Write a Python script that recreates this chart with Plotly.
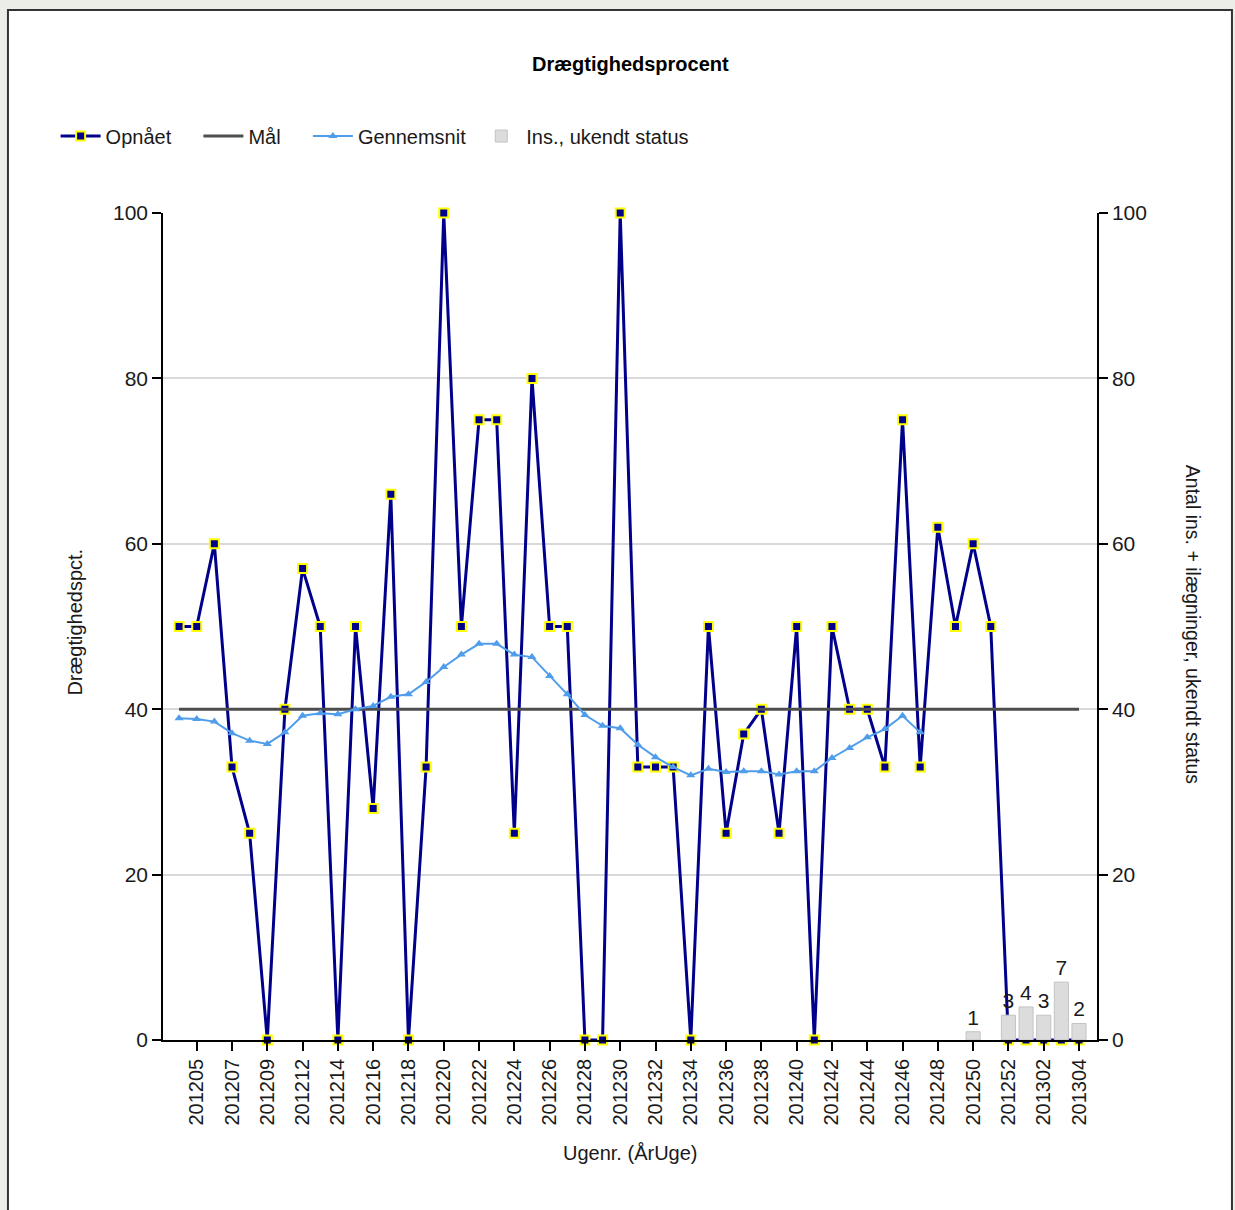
import plotly.graph_objects as go

weeks = ["201204", "201205", "201206", "201207", "201208", "201209", "201211", "201212",
         "201213", "201214", "201215", "201216", "201217", "201218", "201219", "201220",
         "201221", "201222", "201223", "201224", "201225", "201226", "201227", "201228",
         "201229", "201230", "201231", "201232", "201233", "201234", "201235", "201236",
         "201237", "201238", "201239", "201240", "201241", "201242", "201243", "201244",
         "201245", "201246", "201247", "201248", "201249", "201250", "201251", "201252",
         "201301", "201302", "201303", "201304"]

opnaaet = [50, 50, 60, 33, 25, 0, 40, 57, 50, 0, 50, 28, 66, 0, 33, 100,
           50, 75, 75, 25, 80, 50, 50, 0, 0, 100, 33, 33, 33, 0, 50, 25,
           37, 40, 25, 50, 0, 50, 40, 40, 33, 75, 33, 62, 50, 60, 50, 0,
           0, 0, 0, 0]

maal = [40] * 52

gennemsnit = [38.9, 38.8, 38.5, 37.1, 36.2, 35.8, 37.2, 39.2, 39.5, 39.4, 40.0, 40.4,
              41.5, 41.8, 43.3, 45.1, 46.6, 47.9, 47.9, 46.6, 46.3, 44.0, 41.8, 39.3,
              38.0, 37.7, 35.7, 34.2, 33.0, 32.0, 32.8, 32.4, 32.5, 32.5, 32.1, 32.5,
              32.5, 34.1, 35.3, 36.6, 37.6, 39.2, 37.2,
              None, None, None, None, None, None, None, None, None]

ukendt = [None] * 45 + [1, None, 3, 4, 3, 7, 2]

tick_weeks = weeks[1::2]
y_ticks = [0, 20, 40, 60, 80, 100]

FONT = "Liberation Sans, Arial, sans-serif"
TXT = "#1a1a1a"
NB = "\u00a0"

fig = go.Figure()

fig.add_trace(go.Scatter(
    x=weeks, y=opnaaet, name="Opnået" + NB * 4, mode="lines+markers",
    line=dict(color="#00008B", width=3),
    marker=dict(symbol="square", size=9, color="#00008B",
                line=dict(color="#FFFF00", width=2)),
    cliponaxis=False,
))
fig.add_trace(go.Scatter(
    x=weeks, y=maal, name="Mål" + NB * 4, mode="lines",
    line=dict(color="#4d4d4d", width=3),
))
fig.add_trace(go.Scatter(
    x=weeks, y=gennemsnit, name="Gennemsnit" + NB, mode="lines+markers",
    line=dict(color="#4F9DEB", width=2),
    marker=dict(symbol="triangle-up", size=8, color="#4F9DEB"),
    connectgaps=False,
))
fig.add_trace(go.Bar(
    x=weeks, y=ukendt, name="Ins., ukendt status", yaxis="y2",
    marker=dict(color="#DCDCDC", line=dict(color="#C4C4C4", width=1)),
    width=0.8,
    text=[("" if v is None else str(v)) for v in ukendt],
    textposition="outside", cliponaxis=False,
    textfont=dict(size=21, color=TXT, family=FONT),
))

fig.update_layout(
    width=1235, height=1210,
    margin=dict(l=163, r=138, t=213, b=170),
    paper_bgcolor="#ECECE8",
    plot_bgcolor="white",
    font=dict(family=FONT, color=TXT),
    showlegend=True,
    legend=dict(orientation="h", x=-0.115, xanchor="left", y=1.093, yanchor="middle",
                font=dict(size=20, color=TXT, family=FONT), bgcolor="rgba(0,0,0,0)",
                itemwidth=40, traceorder="normal"),
    xaxis=dict(
        type="category", range=[-0.91, 52.02],
        tickmode="array", tickvals=tick_weeks, ticktext=tick_weeks,
        tickangle=-90, tickfont=dict(size=20, color=TXT, family=FONT),
        showline=True, linecolor="black", linewidth=1.5,
        ticks="outside", ticklen=9, tickcolor="black", tickwidth=1.5,
        showgrid=False, zeroline=False,
    ),
    yaxis=dict(
        range=[0, 100], tickvals=y_ticks,
        tickfont=dict(size=21, color=TXT, family=FONT),
        showline=True, linecolor="black", linewidth=1.5,
        ticks="outside", ticklen=9, tickcolor="black", tickwidth=1.5,
        showgrid=True, gridcolor="#D9D9D9", gridwidth=1.5, zeroline=False,
    ),
    yaxis2=dict(
        range=[0, 100], tickvals=y_ticks, overlaying="y", side="right",
        tickfont=dict(size=21, color=TXT, family=FONT),
        showline=True, linecolor="black", linewidth=1.5,
        ticks="outside", ticklen=9, tickcolor="black", tickwidth=1.5,
        showgrid=False, zeroline=False,
    ),
    bargap=0.2,
)

fig.add_shape(type="rect", xref="paper", yref="paper",
              x0=-0.166, x1=1.1445, y0=-0.3, y1=1.2455,
              fillcolor="white", line=dict(color="#333333", width=2), layer="below")

fig.add_annotation(text="<b>Drægtighedsprocent</b>", xref="paper", yref="paper",
                   x=0.5, y=1.180, showarrow=False, xanchor="center", yanchor="middle",
                   font=dict(size=20, color="black", family=FONT))
fig.add_annotation(text="Drægtighedspct.", xref="paper", yref="paper",
                   x=-0.094, y=0.505, showarrow=False, textangle=-90,
                   xanchor="center", yanchor="middle",
                   font=dict(size=20, color=TXT, family=FONT))
fig.add_annotation(text="Antal ins. + ilægninger, ukendt status", xref="paper", yref="paper",
                   x=1.103, y=0.503, showarrow=False, textangle=90,
                   xanchor="center", yanchor="middle",
                   font=dict(size=19.5, color=TXT, family=FONT))
fig.add_annotation(text="Ugenr. (ÅrUge)", xref="paper", yref="paper",
                   x=0.5, y=-0.137, showarrow=False, xanchor="center", yanchor="middle",
                   font=dict(size=20, color=TXT, family=FONT))

fig.write_html("out.html", config={"displayModeBar": False},
               post_script="document.body.style.margin='0px';")
